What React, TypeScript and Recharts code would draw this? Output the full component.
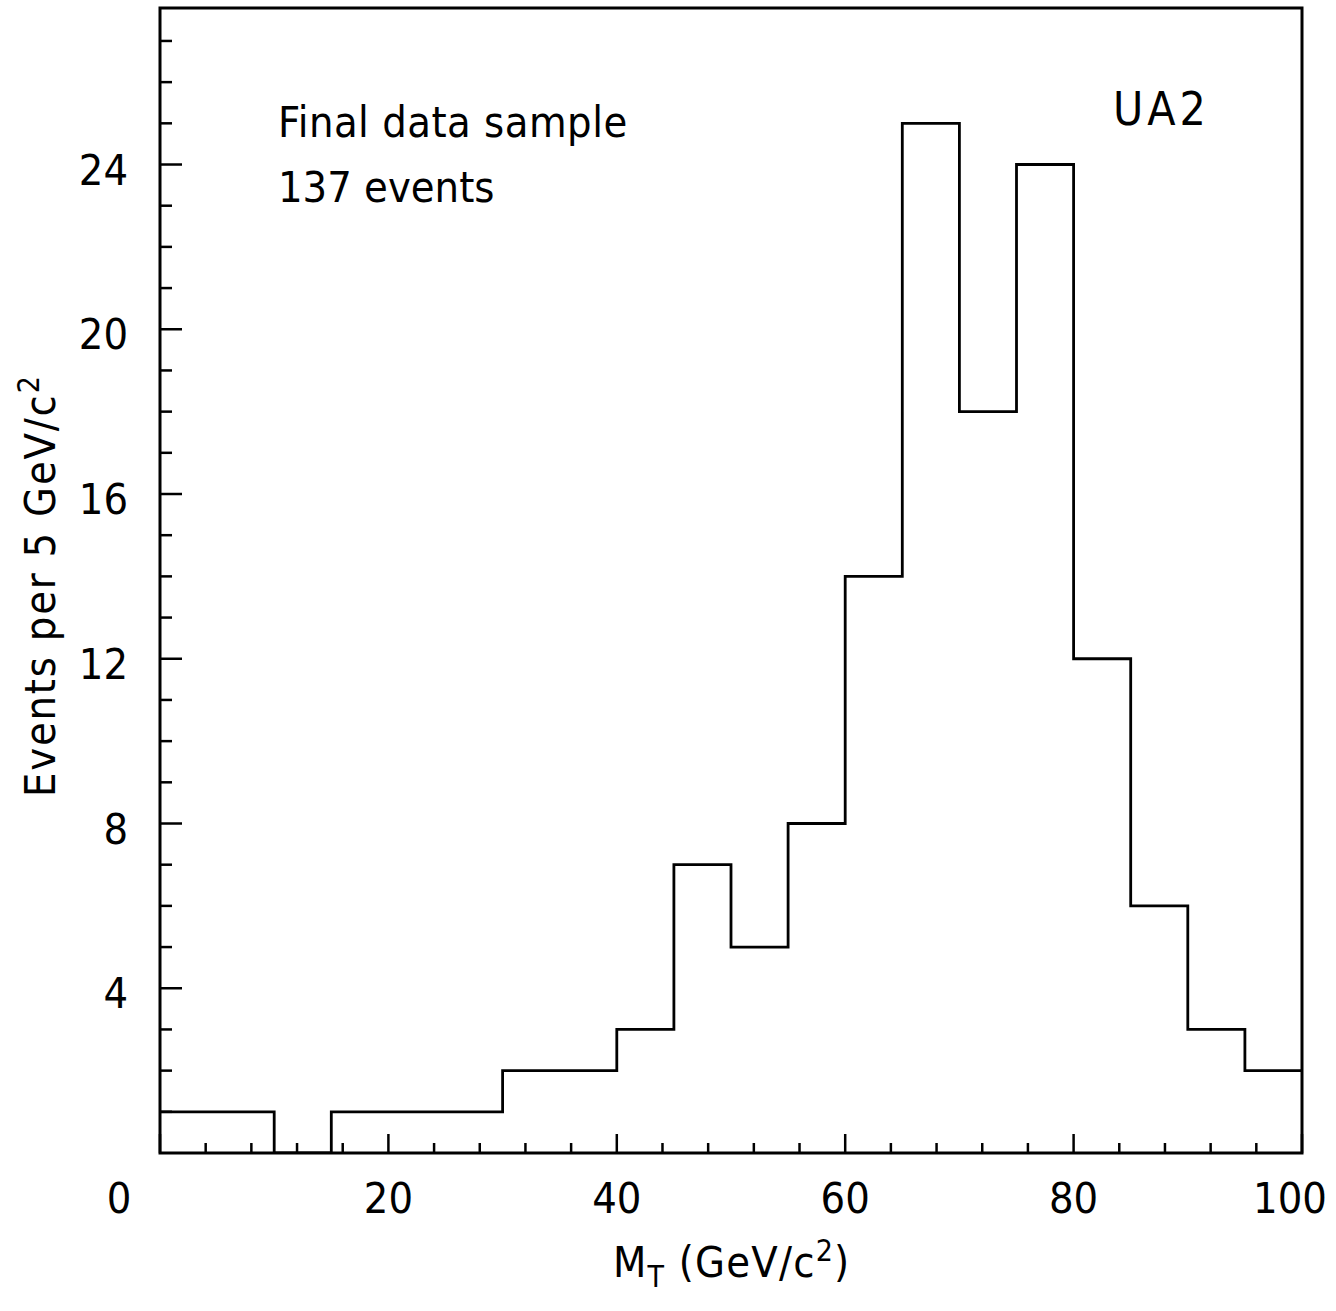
import React from "react"
import { ComposedChart, Line, XAxis, YAxis, ReferenceArea } from "recharts"

// lower bin edges (GeV/c^2) and events per 5 GeV/c^2 bin
const binEdges = [0, 5, 10, 15, 20, 25, 30, 35, 40, 45, 50, 55, 60, 65, 70, 75, 80, 85, 90, 95]
const counts = [1, 1, 0, 1, 1, 1, 2, 2, 3, 7, 5, 8, 14, 25, 18, 24, 12, 6, 3, 2]
const xMax = 100

const xTicks = [0, 4, 8, 12, 16, 20, 24, 28, 32, 36, 40, 44, 48, 52, 56, 60, 64, 68, 72, 76, 80, 84, 88, 92, 96, 100]
const xLabels = [0, 20, 40, 60, 80, 100]
const yTicks = [0, 1, 2, 3, 4, 5, 6, 7, 8, 9, 10, 11, 12, 13, 14, 15, 16, 17, 18, 19, 20, 21, 22, 23, 24, 25, 26, 27]
const yLabels = [4, 8, 12, 16, 20, 24]

const FONT = "'DejaVu Sans Condensed', 'DejaVu Sans', sans-serif"
const INK = "#000"

// step line needs a closing point at the right edge
const data = [
  ...binEdges.map((edge, i) => ({ edge, count: counts[i] })),
  { edge: xMax, count: counts[counts.length - 1] },
]

function XTick(props: any) {
  const { x, y, payload } = props
  const v = payload.value
  const major = xLabels.includes(v)
  const dx = v === 0 ? -41 : v === 100 ? -12 : 0
  return (
    <g>
      <line x1={x} x2={x} y1={y} y2={y - (major ? 19 : 10)} stroke={INK} strokeWidth={2.5} />
      {major && (
        <text x={x + dx} y={y + 60} textAnchor="middle" fontFamily={FONT} fontStretch="condensed" fontSize={43} fill={INK}>
          {v}
        </text>
      )}
    </g>
  )
}

function YTick(props: any) {
  const { x, y, payload } = props
  const v = payload.value
  if (v === 0) return null
  const major = yLabels.includes(v)
  return (
    <g>
      <line x1={x} x2={x + (major ? 22 : 12)} y1={y} y2={y} stroke={INK} strokeWidth={2.5} />
      {major && (
        <text x={x - 32} y={y + 20} textAnchor="end" fontFamily={FONT} fontStretch="condensed" fontSize={43} fill={INK}>
          {v}
        </text>
      )}
    </g>
  )
}

export default function App() {
  return (
    <div style={{ position: "absolute", left: 0, top: 0, width: 1336, height: 1311, background: "#fff" }}>
      <ComposedChart width={1336} height={1311} data={data} margin={{ top: 8, right: 34, bottom: 0, left: 0 }}>
        <XAxis
          dataKey="edge"
          type="number"
          domain={[0, xMax]}
          ticks={xTicks}
          interval={0}
          height={158}
          tickSize={0}
          tickMargin={0}
          axisLine={false}
          tick={<XTick />}
        />
        <YAxis
          type="number"
          domain={[0, 27.8]}
          ticks={yTicks}
          interval={0}
          width={160}
          tickSize={0}
          tickMargin={0}
          axisLine={false}
          tick={<YTick />}
          allowDataOverflow
        />
        <ReferenceArea x1={0} x2={xMax} y1={0} y2={27.8} fill="none" stroke={INK} strokeWidth={3} ifOverflow="visible" />
        <Line
          dataKey="count"
          type="stepAfter"
          stroke={INK}
          strokeWidth={2.8}
          dot={false}
          isAnimationActive={false}
        />
      </ComposedChart>
      <svg
        width={1336}
        height={1311}
        style={{ position: "absolute", left: 0, top: 0, pointerEvents: "none", fontStretch: "condensed" }}
        fontFamily={FONT}
        fill={INK}
      >
        <text x={278} y={137} fontSize={43} letterSpacing={0.5}>Final data sample</text>
        <text x={278} y={202} fontSize={43}>137 events</text>
        <text x={1113} y={125} fontSize={46} letterSpacing={4}>UA2</text>
        <text x={613} y={1277} fontSize={43} letterSpacing={1.2}>
          M<tspan fontSize={30} dy={10}>T</tspan>
          <tspan dy={-10}>{"  (GeV/c"}</tspan>
          <tspan fontSize={30} dy={-16}>2</tspan>
          <tspan dy={16}>)</tspan>
        </text>
        <text x={55} y={797} fontSize={43} letterSpacing={1.8} transform="rotate(-90 55 797)">
          Events per 5 GeV/c<tspan fontSize={30} dy={-16}>2</tspan>
        </text>
      </svg>
    </div>
  )
}
